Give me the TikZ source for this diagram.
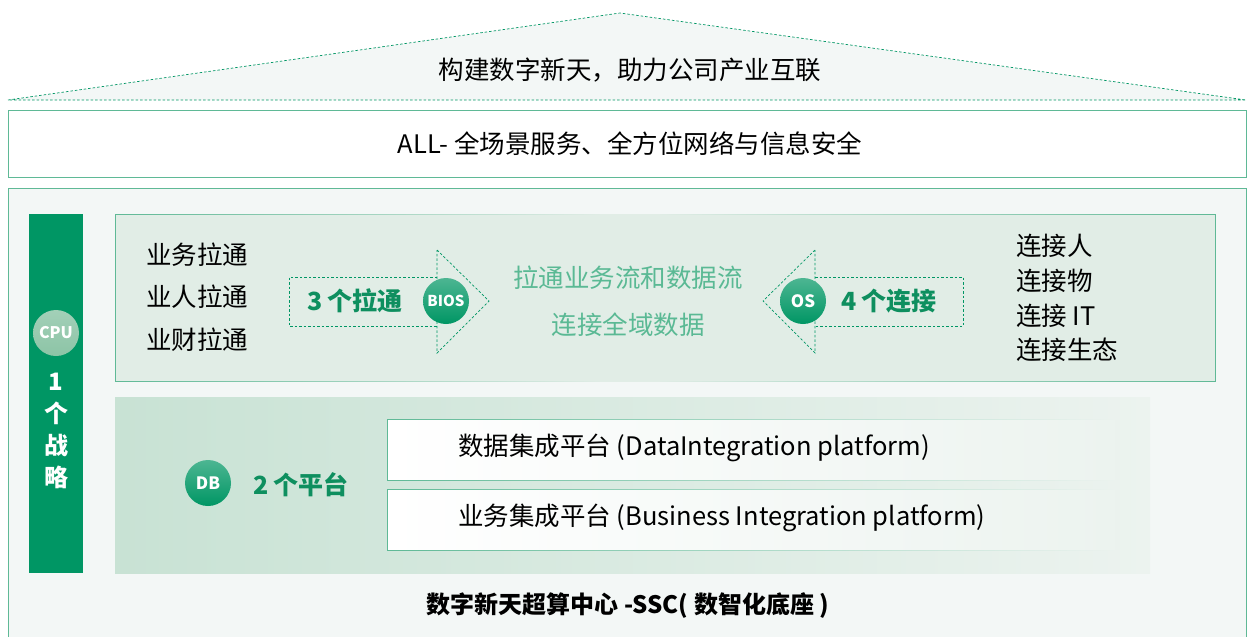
\documentclass[tikz,border=0pt]{standalone}
\usepackage{fontspec}
\setmainfont{Noto Sans CJK SC}
\usetikzlibrary{fadings}
\definecolor{hwgreen}{RGB}{0,150,100}
\definecolor{linegreen}{RGB}{95,185,150}
\definecolor{textgreen}{RGB}{14,143,95}
\definecolor{softgreen}{RGB}{90,185,148}
\definecolor{bgray}{RGB}{243,247,246}
\definecolor{panela}{RGB}{225,237,230}
\definecolor{panelb}{RGB}{200,226,212}
\definecolor{panelc}{RGB}{236,243,239}
\definecolor{cpulight}{RGB}{140,196,166}
\newcommand{\fs}[1]{\fontsize{#1}{#1}\selectfont}

\begin{document}
\begin{tikzpicture}[x=1pt, y=-1pt,
	ball/.style={circle, top color=hwgreen!70, bottom color=hwgreen, text=white, minimum size=46pt, inner sep=0pt, font=\bfseries\fs{16}},
	dashline/.style={draw=hwgreen, dash pattern=on 2.5pt off 2pt, line width=0.7pt},
	plain/.style={font=\fs{25.5}, text=black, inner sep=0pt}]
	\useasboundingbox (0,0) rectangle (1248,637);

	% roof
	\path[fill=bgray] (8,100) -- (620,13) -- (1246,100) -- cycle;
	\draw[dashline] (8,100) -- (620,13) -- (1246,100) -- cycle;
	\node (roof) [plain] at (630,70) {构建数字新天，助力公司产业互联};

	% all scenarios
	\draw[linegreen, fill=white] (8,110) rectangle (1246,177);
	\node (all) [plain] at (630,144) {ALL- 全场景服务、全方位网络与信息安全};

	% base
	\fill[bgray] (8,188) rectangle (1246,637);
	\draw[linegreen] (8,640) -- (8,188) -- (1246,188) -- (1246,640);

	% strategy bar
	\fill[hwgreen] (29,214) rectangle (83,573);
	\node (cpu) [ball, top color=cpulight!80, bottom color=cpulight] at (56,333) {CPU};
	\node (strategy) [text=white, align=center, font=\bfseries\fontsize{24}{32}\selectfont] at (56,431) {1\\个\\战\\略};

	% upper panel
	\fill[left color=panela, middle color=bgray, right color=panela] (115,214) rectangle (1215,381);
	\draw[linegreen, path fading=east] (600,214) -- (115,214) -- (115,381) -- (600,381);
	\draw[linegreen, path fading=west] (660,214) -- (1215,214) -- (1215,381) -- (660,381);

	\node (lt1) [plain] at (197,255) {业务拉通};
	\node (lt2) [plain] at (197,297) {业人拉通};
	\node (lt3) [plain] at (197,340) {业财拉通};

	% arrow to the right
	\draw[dashline] (437,277) -- (289,277) -- (289,326) -- (437,326);
	\draw[dashline] (437,250) -- (489,301) -- (437,353) -- cycle;
	\node (pull) [font=\bfseries\fs{25}, text=textgreen] at (355,301) {3 个拉通};
	\node (bios) [ball, font=\bfseries\fs{15}] at (446,301) {BIOS};

	\node (flow) [font=\fs{25.5}, text=softgreen] at (628,278) {拉通业务流和数据流};
	\node (data) [font=\fs{25.5}, text=softgreen] at (628,325) {连接全域数据};

	% arrow to the left
	\draw[dashline] (815,277) -- (963,277) -- (963,326) -- (815,326);
	\draw[dashline] (815,250) -- (763,301) -- (815,353) -- cycle;
	\node (os) [ball, font=\bfseries\fs{17}] at (803,301) {OS};
	\node (link) [font=\bfseries\fs{25}, text=textgreen] at (889,301) {4 个连接};

	\node (rt1) [plain, anchor=west] at (1016,246) {连接人};
	\node (rt2) [plain, anchor=west] at (1016,281) {连接物};
	\node (rt3) [plain, anchor=west] at (1016,316) {连接 IT};
	\node (rt4) [plain, anchor=west] at (1016,350) {连接生态};

	% lower panel
	\fill[left color=panelb, right color=panelc] (115,397) rectangle (1150,573);
	\node (db) [ball, font=\bfseries\fs{17}] at (208,483) {DB};
	\node (plat) [font=\bfseries\fs{25}, text=textgreen] at (301,485) {2 个平台};

	\fill[left color=white, middle color=white, right color=panelc] (387,419) rectangle (1115,480);
	\draw[linegreen, path fading=east] (1115,419) -- (387,419) -- (387,480) -- (1115,480);
	\node (dip) [plain, anchor=west] at (458,448) {数据集成平台 (DataIntegration platform)};

	\fill[left color=white, middle color=white, right color=panelc] (387,489) rectangle (1115,550);
	\draw[linegreen, path fading=east] (1115,489) -- (387,489) -- (387,550) -- (1115,550);
	\node (bip) [plain, anchor=west] at (458,518) {业务集成平台 (Business Integration platform)};

	\node (ssc) [font=\bfseries\fs{24}] at (628,606) {数字新天超算中心 -SSC( 数智化底座 )};
\end{tikzpicture}
\end{document}
